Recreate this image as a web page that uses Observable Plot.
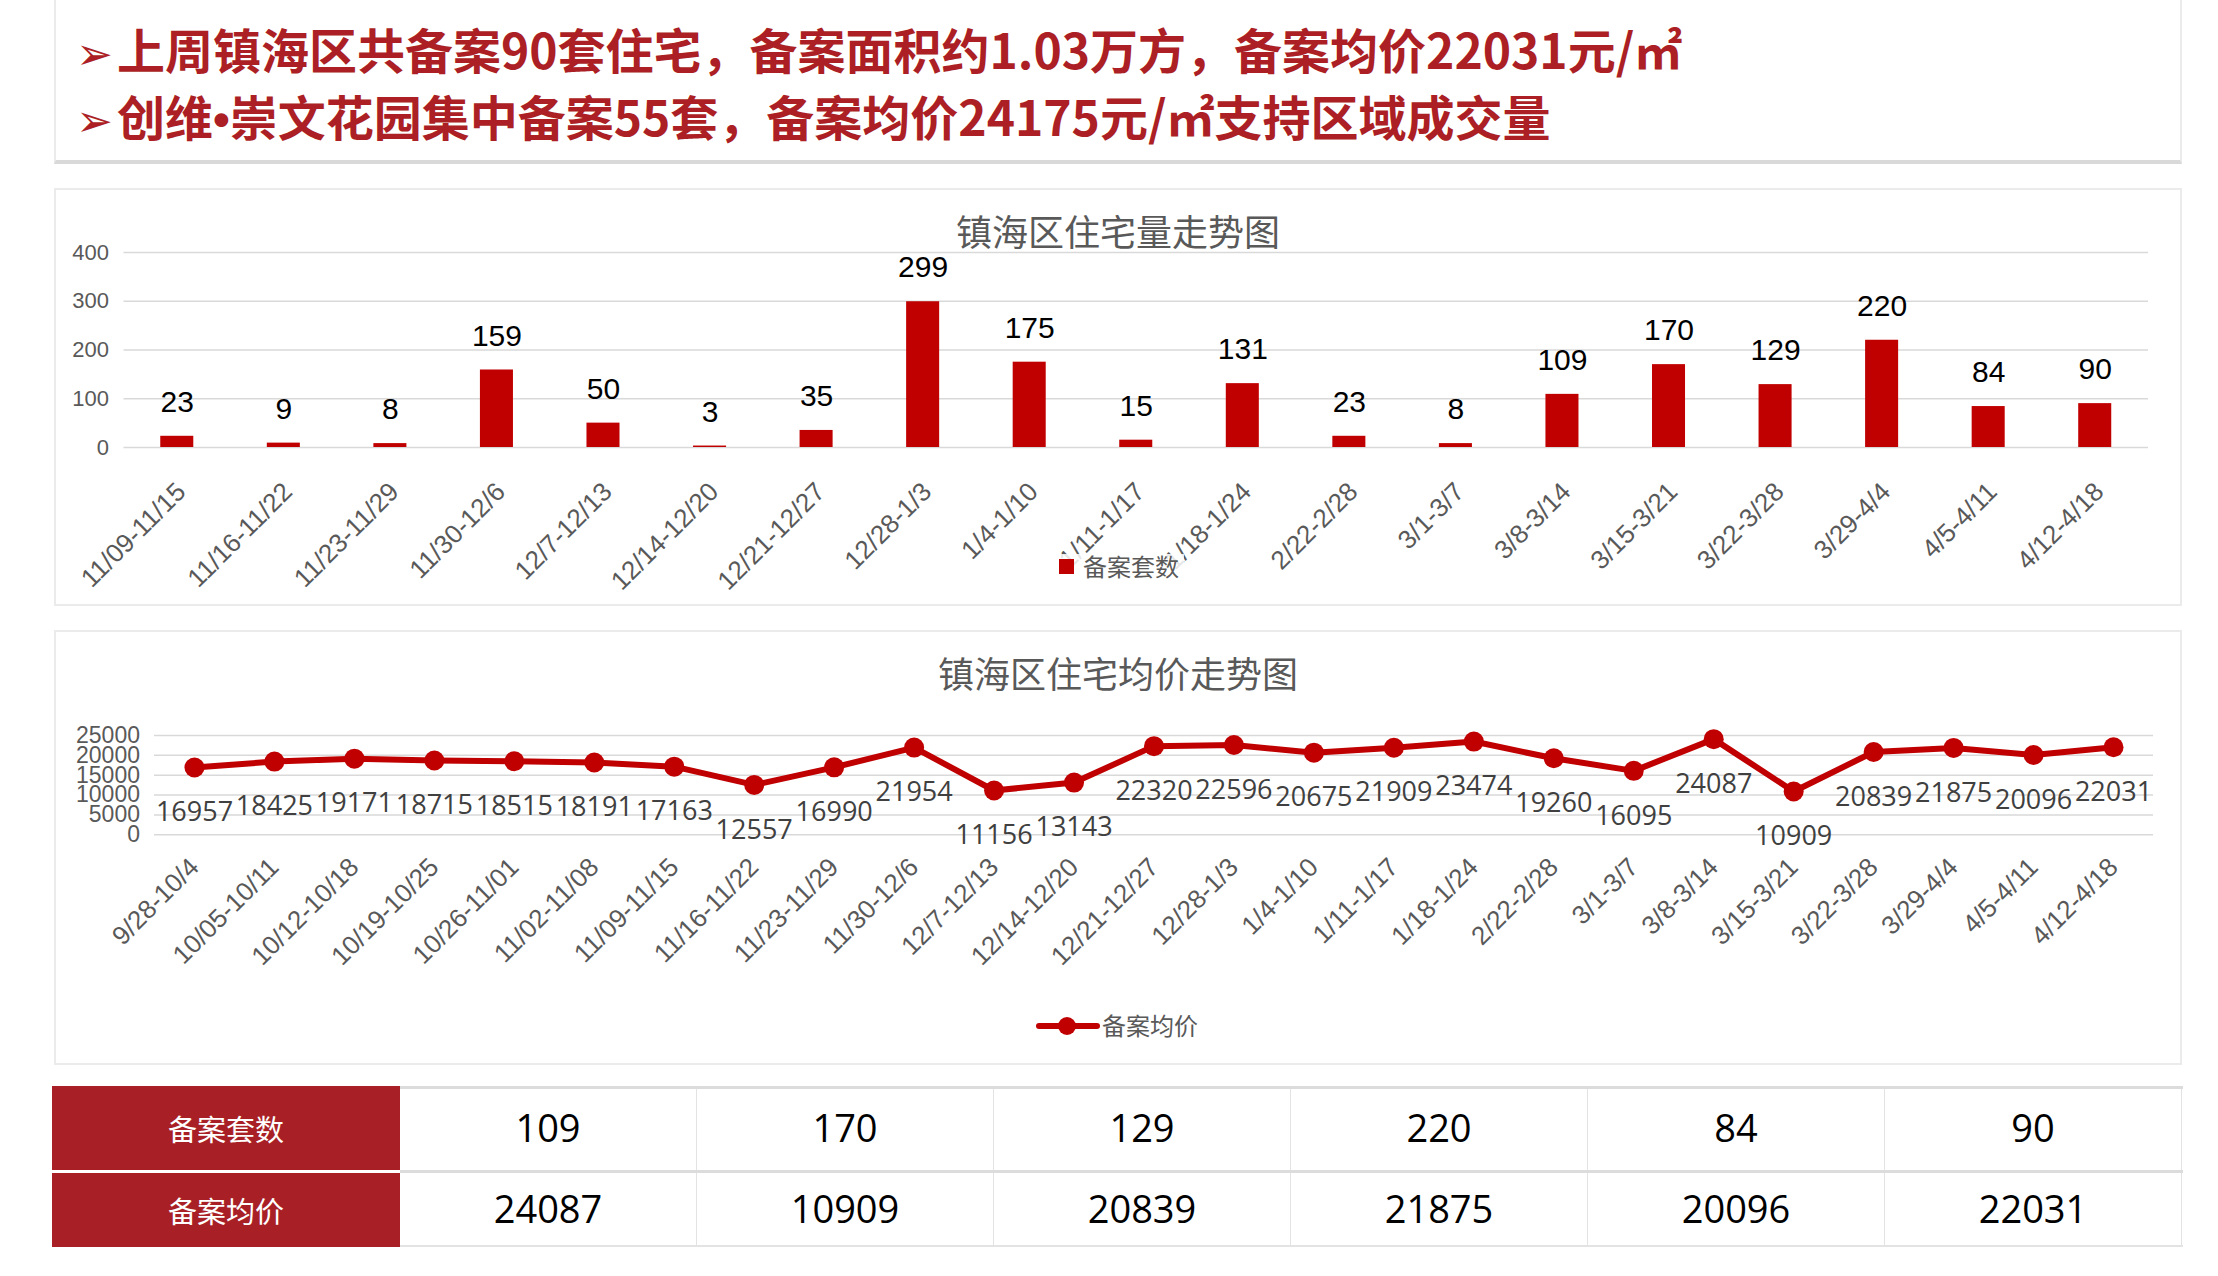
<!DOCTYPE html>
<html>
<head>
<meta charset="utf-8">
<script src="https://cdn.jsdelivr.net/npm/d3@7"></script>
<script src="https://cdn.jsdelivr.net/npm/@observablehq/plot@0.6"></script>
<style>
  html, body { margin: 0; padding: 0; background: #fff; }
  body { width: 2218px; height: 1276px; position: relative; overflow: hidden; font-family: "Noto Sans CJK SC", "Liberation Sans", sans-serif; }
  .abs { position: absolute; }
  .panel { position: absolute; box-sizing: border-box; border: 2px solid #ebebeb; background: #fff; }
  .hline { position: absolute; white-space: nowrap; font-weight: 700; color: #ab1f25; font-size: 48px; line-height: 48px; letter-spacing: 0px; }
  .hline .arrow { font-family: "DejaVu Sans", sans-serif; font-weight: 400; font-size: 44px; margin-right: 4px; color: #ab1f25; }
  .hline .dot { font-family: "Liberation Sans", sans-serif; }
  .ctitle { position: absolute; transform: translateX(-50%); white-space: nowrap; font-size: 36px; line-height: 36px; color: #595959; }
  .legtext { position: absolute; font-size: 24px; line-height: 24px; color: #595959; white-space: nowrap; }
  .cell { position: absolute; box-sizing: border-box; display: flex; align-items: center; justify-content: center; }
  .redcell { background: #a82025; color: #fff; font-size: 29px; }
  .valcell { color: #000; font-family: "Open Sans", "Liberation Sans", sans-serif; font-size: 38px; border-right: 1.5px solid #e3e3e3; padding-bottom: 5px; }
</style>
</head>
<body>
<div id="root"></div>
<script>
// ---------- data ----------
const weeksBar = ["11/09-11/15","11/16-11/22","11/23-11/29","11/30-12/6","12/7-12/13","12/14-12/20","12/21-12/27","12/28-1/3","1/4-1/10","1/11-1/17","1/18-1/24","2/22-2/28","3/1-3/7","3/8-3/14","3/15-3/21","3/22-3/28","3/29-4/4","4/5-4/11","4/12-4/18"];
const counts = [23,9,8,159,50,3,35,299,175,15,131,23,8,109,170,129,220,84,90];
const weeksLine = ["9/28-10/4","10/05-10/11","10/12-10/18","10/19-10/25","10/26-11/01","11/02-11/08","11/09-11/15","11/16-11/22","11/23-11/29","11/30-12/6","12/7-12/13","12/14-12/20","12/21-12/27","12/28-1/3","1/4-1/10","1/11-1/17","1/18-1/24","2/22-2/28","3/1-3/7","3/8-3/14","3/15-3/21","3/22-3/28","3/29-4/4","4/5-4/11","4/12-4/18"];
const prices = [16957,18425,19171,18715,18515,18191,17163,12557,16990,21954,11156,13143,22320,22596,20675,21909,23474,19260,16095,24087,10909,20839,21875,20096,22031];
const yTicksBar = [0,100,200,300,400];
const yTicksLine = [0,5000,10000,15000,20000,25000];
const headline1 = "上周镇海区共备案90套住宅，备案面积约1.03万方，备案均价22031元/㎡";
const headline2 = "创维<span class=\"dot\">•</span>崇文花园集中备案55套，备案均价24175元/㎡支持区域成交量";
const barTitle = "镇海区住宅量走势图";
const lineTitle = "镇海区住宅均价走势图";
const barSeriesName = "备案套数";
const lineSeriesName = "备案均价";
const tableRowNames = ["备案套数", "备案均价"];
const tableCount = 6;

const RED = "#c00000";
const GRAY = "#595959";
const root = document.getElementById("root");
function el(tag, cls, style, html) {
  const e = document.createElement(tag);
  if (cls) e.className = cls;
  if (style) Object.assign(e.style, style);
  if (html != null) e.innerHTML = html;
  return e;
}

// ---------- header ----------
const header = el("div", "panel", {left: "54px", top: "-6px", width: "2128px", height: "170px", borderBottom: "4px solid #d9d9d9"});
root.appendChild(header);
[headline1, headline2].forEach((t, i) => {
  const line = el("div", "hline", {left: "20px", top: (i === 0 ? 28 : 95) + "px"});
  line.innerHTML = '<span class="arrow">➢</span>' + t;
  header.appendChild(line);
});

// ---------- bar chart ----------
const barPanel = el("div", "panel", {left: "54px", top: "188px", width: "2128px", height: "418px"});
root.appendChild(barPanel);
const barData = weeksBar.map((w, i) => ({week: w, count: counts[i]}));
const barPlot = Plot.plot({
  width: 2124, height: 414,
  marginLeft: 67.5, marginRight: 32, marginTop: 62, marginBottom: 157,
  style: {fontFamily: "'Liberation Sans', Arial, sans-serif", background: "transparent", overflow: "visible"},
  x: {domain: weeksBar, paddingInner: 0.69, paddingOuter: 0.345, round: false, label: null},
  y: {domain: [0, 400], label: null},
  marks: [
    Plot.ruleY(yTicksBar, {stroke: "#d9d9d9", strokeWidth: 1.5}),
    Plot.axisY(yTicksBar, {tickSize: 0, tickPadding: 15, fontSize: 22, fill: GRAY, label: null}),
    Plot.axisX({tickSize: 0, tickRotate: -45, tickPadding: 40, dx: 4, fontSize: 26, fill: GRAY, label: null}),
    Plot.barY(barData, {x: "week", y: "count", fill: RED}),
    Plot.text(barData, {x: "week", y: "count", text: d => String(d.count), dy: -34, fontSize: 30, fill: "#000"})
  ]
});
barPlot.style.position = "absolute"; barPlot.style.left = "0px"; barPlot.style.top = "0px";
barPanel.appendChild(barPlot);
barPanel.appendChild(el("div", "ctitle", {left: "1062px", top: "22px"}, barTitle));
// legend
barPanel.appendChild(el("div", "abs", {left: "998px", top: "364px", width: "130px", height: "30px", background: "rgba(255,255,255,0.85)"}));
barPanel.appendChild(el("div", "abs", {left: "1003px", top: "369px", width: "15px", height: "15px", background: RED}));
barPanel.appendChild(el("div", "legtext", {left: "1027px", top: "364px"}, barSeriesName));

// ---------- line chart ----------
const linePanel = el("div", "panel", {left: "54px", top: "630px", width: "2128px", height: "435px"});
root.appendChild(linePanel);
const lineData = weeksLine.map((w, i) => ({week: w, price: prices[i]}));
const linePlot = Plot.plot({
  width: 2124, height: 431,
  marginLeft: 98, marginRight: 27, marginTop: 103, marginBottom: 228.7,
  style: {fontFamily: "'Liberation Sans', Arial, sans-serif", background: "transparent", overflow: "visible"},
  x: {type: "point", domain: weeksLine, padding: 0.5, round: false, label: null},
  y: {domain: [0, 25000], label: null},
  marks: [
    Plot.ruleY(yTicksLine, {stroke: "#d9d9d9", strokeWidth: 1.5}),
    Plot.axisY(yTicksLine, {tickSize: 0, tickPadding: 14.5, fontSize: 23, fill: GRAY, label: null, tickFormat: d => String(d)}),
    Plot.axisX({tickSize: 0, tickRotate: -45, tickPadding: 28, fontSize: 26, fill: GRAY, label: null}),
    Plot.line(lineData, {x: "week", y: "price", stroke: RED, strokeWidth: 6}),
    Plot.dot(lineData, {x: "week", y: "price", r: 10, fill: RED, stroke: "none"}),
    Plot.text(lineData, {x: "week", y: "price", text: d => String(d.price), dy: 45, fontSize: 27, fill: "#404040", fontFamily: "'Open Sans', sans-serif"})
  ]
});
linePlot.style.position = "absolute"; linePlot.style.left = "0px"; linePlot.style.top = "0px";
linePanel.appendChild(linePlot);
linePanel.appendChild(el("div", "ctitle", {left: "1062px", top: "22px"}, lineTitle));
linePanel.appendChild(el("div", "abs", {left: "980px", top: "382px", width: "64px", height: "24px"},
  '<svg width="64" height="24"><line x1="3" y1="12" x2="61" y2="12" stroke="' + RED + '" stroke-width="6" stroke-linecap="round"/><circle cx="31" cy="12" r="9" fill="' + RED + '"/></svg>'));
linePanel.appendChild(el("div", "legtext", {left: "1046px", top: "381px"}, lineSeriesName));

// ---------- table ----------
const tCounts = counts.slice(-tableCount);
const tPrices = prices.slice(-tableCount);
const table = el("div", "abs", {left: "52px", top: "1086px", width: "2131px", height: "162px"});
root.appendChild(table);
table.appendChild(el("div", "abs", {left: "348px", top: "0px", width: "1783px", height: "3px", background: "#dcdcdc"}));
table.appendChild(el("div", "abs", {left: "348px", top: "84px", width: "1783px", height: "3px", background: "#dcdcdc"}));
table.appendChild(el("div", "abs", {left: "348px", top: "159px", width: "1783px", height: "2px", background: "#e3e3e3"}));
const rowTops = [0, 87], rowHeights = [84, 74];
tableRowNames.forEach((name, r) => {
  table.appendChild(el("div", "cell redcell", {left: "0px", top: rowTops[r] + "px", width: "348px", height: rowHeights[r] + "px"}, name));
  const vals = r === 0 ? tCounts : tPrices;
  vals.forEach((v, c) => {
    table.appendChild(el("div", "cell valcell", {left: (348 + c * 297) + "px", top: (rowTops[r] + (r === 0 ? 3 : 0)) + "px", width: "297px", height: (rowHeights[r] - (r === 0 ? 3 : 0)) + "px"}, String(v)));
  });
});
</script>
</body>
</html>
